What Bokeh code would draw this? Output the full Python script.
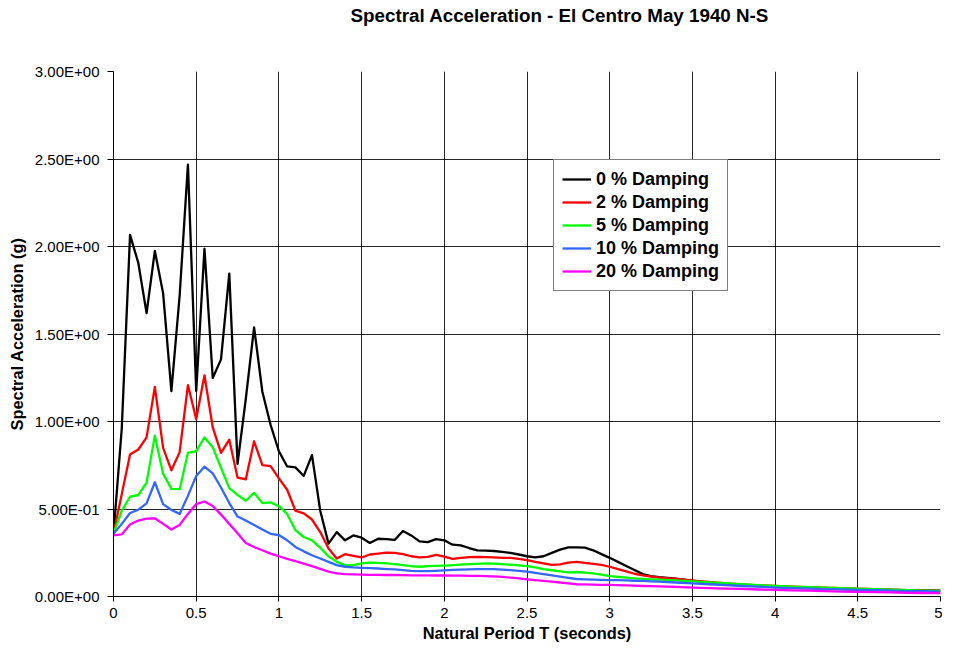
from bokeh.plotting import figure
from bokeh.models import Range1d, FixedTicker, Legend, LegendItem, ColumnDataSource, Title
from bokeh.embed import file_html
from bokeh.resources import INLINE

# ---------------- data ----------------
period = [0.00, 0.05, 0.10, 0.15, 0.20, 0.25, 0.30, 0.35, 0.40, 0.45,
          0.50, 0.55, 0.60, 0.65, 0.70, 0.75, 0.80, 0.85, 0.90, 0.95,
          1.00, 1.05, 1.10, 1.15, 1.20, 1.25, 1.30, 1.35, 1.40, 1.45,
          1.50, 1.55, 1.60, 1.65, 1.70, 1.75, 1.80, 1.85, 1.90, 1.95,
          2.00, 2.05, 2.10, 2.15, 2.20, 2.25, 2.30, 2.35, 2.40, 2.45,
          2.50, 2.55, 2.60, 2.65, 2.70, 2.75, 2.80, 2.85, 2.90, 2.95,
          3.00, 3.05, 3.10, 3.15, 3.20, 3.25, 3.30,
          3.4, 3.5, 3.6, 3.7, 3.8, 3.9, 4.0, 4.1, 4.2, 4.3, 4.4, 4.5, 4.6, 4.7, 4.8, 4.9, 5.0]

damp_0 = [0.358, 0.96, 2.066, 1.906, 1.619, 1.975, 1.732, 1.174, 1.72, 2.468,
          1.174, 1.987, 1.249, 1.355, 1.845, 0.758, 1.13, 1.538, 1.17, 0.98,
          0.83, 0.743, 0.738, 0.689, 0.808, 0.49, 0.302, 0.368, 0.321, 0.349,
          0.336, 0.306, 0.33, 0.328, 0.323, 0.374, 0.349, 0.315, 0.311, 0.328,
          0.321, 0.296, 0.292, 0.277, 0.264, 0.262, 0.26, 0.255, 0.249, 0.24,
          0.23, 0.223, 0.23, 0.249, 0.268, 0.281, 0.281, 0.279, 0.264, 0.242,
          0.221, 0.198, 0.174, 0.151, 0.128, 0.117, 0.111,
          0.102, 0.091, 0.079, 0.072, 0.064, 0.06, 0.057, 0.054, 0.051, 0.048, 0.045, 0.042, 0.04, 0.038, 0.036, 0.035, 0.034]

damp_2 = [0.358, 0.585, 0.811, 0.84, 0.909, 1.198, 0.849, 0.721, 0.825, 1.208,
          1.013, 1.264, 0.966, 0.821, 0.896, 0.679, 0.670, 0.887, 0.751, 0.745,
          0.675, 0.61, 0.49, 0.475, 0.44, 0.368, 0.274, 0.217, 0.242, 0.232,
          0.223, 0.24, 0.245, 0.251, 0.249, 0.242, 0.23, 0.223, 0.226, 0.238,
          0.228, 0.215, 0.221, 0.225, 0.226, 0.225, 0.223, 0.221, 0.221, 0.215,
          0.208, 0.198, 0.189, 0.181, 0.183, 0.194, 0.198, 0.192, 0.187, 0.181,
          0.17, 0.157, 0.143, 0.13, 0.121, 0.113, 0.108,
          0.1, 0.091, 0.083, 0.075, 0.069, 0.064, 0.06, 0.057, 0.054, 0.051, 0.048, 0.045, 0.042, 0.039, 0.036, 0.034, 0.032]

damp_5 = [0.358, 0.49, 0.57, 0.58, 0.651, 0.919, 0.702, 0.615, 0.613, 0.821,
          0.830, 0.909, 0.853, 0.736, 0.619, 0.581, 0.547, 0.592, 0.534, 0.538,
          0.516, 0.472, 0.379, 0.34, 0.321, 0.279, 0.23, 0.198, 0.179, 0.179,
          0.189, 0.194, 0.192, 0.189, 0.185, 0.179, 0.174, 0.17, 0.174, 0.175,
          0.177, 0.179, 0.182, 0.185, 0.187, 0.189, 0.188, 0.185, 0.182, 0.178,
          0.174, 0.166, 0.157, 0.15, 0.143, 0.138, 0.14, 0.136, 0.132, 0.125,
          0.117, 0.112, 0.108, 0.104, 0.101, 0.098, 0.096,
          0.092, 0.087, 0.081, 0.076, 0.07, 0.065, 0.06, 0.057, 0.054, 0.051, 0.048, 0.045, 0.042, 0.039, 0.036, 0.034, 0.032]

damp_10 = [0.358, 0.415, 0.477, 0.496, 0.532, 0.653, 0.528, 0.494, 0.472, 0.575,
           0.689, 0.742, 0.704, 0.623, 0.534, 0.457, 0.434, 0.409, 0.383, 0.358,
           0.351, 0.321, 0.283, 0.258, 0.236, 0.217, 0.198, 0.179, 0.17, 0.166,
           0.164, 0.162, 0.16, 0.157, 0.155, 0.151, 0.147, 0.145, 0.145, 0.147,
           0.149, 0.152, 0.154, 0.155, 0.156, 0.157, 0.156, 0.154, 0.151, 0.147,
           0.142, 0.135, 0.128, 0.121, 0.114, 0.107, 0.1, 0.098, 0.096, 0.095,
           0.094, 0.093, 0.092, 0.09, 0.089, 0.087, 0.085,
           0.08, 0.075, 0.07, 0.065, 0.06, 0.056, 0.051, 0.048, 0.045, 0.042, 0.04, 0.038, 0.036, 0.034, 0.031, 0.03, 0.028]

damp_20 = [0.349, 0.355, 0.411, 0.434, 0.445, 0.447, 0.415, 0.383, 0.409, 0.472,
           0.528, 0.543, 0.517, 0.468, 0.415, 0.362, 0.306, 0.283, 0.264, 0.245,
           0.23, 0.215, 0.202, 0.188, 0.174, 0.158, 0.142, 0.132, 0.128, 0.126,
           0.125, 0.124, 0.123, 0.123, 0.123, 0.122, 0.121, 0.121, 0.121, 0.12,
           0.12, 0.119, 0.119, 0.118, 0.118, 0.117, 0.115, 0.112, 0.108, 0.103,
           0.098, 0.094, 0.089, 0.085, 0.08, 0.075, 0.07, 0.069, 0.068, 0.067,
           0.066, 0.065, 0.063, 0.062, 0.06, 0.059, 0.058,
           0.055, 0.051, 0.048, 0.045, 0.043, 0.04, 0.038, 0.035, 0.033, 0.031, 0.028, 0.026, 0.025, 0.023, 0.021, 0.02, 0.019]

series_labels = ["0 % Damping", "2 % Damping", "5 % Damping", "10 % Damping", "20 % Damping"]
series_values = [damp_0, damp_2, damp_5, damp_10, damp_20]
series_colors = ["#000000", "#FF0000", "#00FF00", "#3366FF", "#FF00FF"]

x_tick_values = [0, 0.5, 1, 1.5, 2, 2.5, 3, 3.5, 4, 4.5, 5]
x_tick_labels = ["0", "0.5", "1", "1.5", "2", "2.5", "3", "3.5", "4", "4.5", "5"]
y_tick_values = [0, 0.5, 1.0, 1.5, 2.0, 2.5, 3.0]
y_tick_labels = ["0.00E+00", "5.00E-01", "1.00E+00", "1.50E+00", "2.00E+00", "2.50E+00", "3.00E+00"]

title_text = "Spectral Acceleration - El Centro May 1940 N-S"
x_label = "Natural Period T (seconds)"
y_label = "Spectral Acceleration (g)"

FONT = "Liberation Sans"

# ---------------- figure ----------------
p = figure(width=942, height=646, output_backend="svg", toolbar_location=None,
           x_range=Range1d(0, 5), y_range=Range1d(0, 3),
           min_border_left=113, min_border_right=2, min_border_top=71,
           min_border_bottom=50)
p.outline_line_color = None
p.background_fill_color = "white"
p.border_fill_color = "white"
p.title.text = ""

# spacer (closest to frame) then the visible title above it
spacer = Title(text=" ", text_font=FONT, text_font_size="10px", standoff=33,
               text_color="white")
p.add_layout(spacer, "above")
main_title = Title(text=title_text, text_font=FONT, text_font_size="18.8px",
                   text_font_style="bold", text_color="black",
                   align="left", offset=237, standoff=0)
p.add_layout(main_title, "above")

# axes
for ax in (p.xaxis[0], p.yaxis[0]):
    ax.axis_line_color = "black"
    ax.axis_line_width = 1
    ax.major_tick_line_color = "black"
    ax.major_tick_in = 0
    ax.minor_tick_line_color = None
    ax.major_label_text_font = FONT
    ax.major_label_text_font_size = "15px"
    ax.major_label_text_color = "black"
    ax.axis_label_text_font = FONT
    ax.axis_label_text_font_size = "16.4px"
    ax.axis_label_text_font_style = "bold"
    ax.axis_label_text_color = "black"

p.xaxis.ticker = FixedTicker(ticks=x_tick_values)
p.xaxis.major_label_overrides = dict(zip(x_tick_values, x_tick_labels))
p.xaxis.major_tick_out = 5
p.xaxis.major_label_standoff = 6
p.xaxis.axis_label = x_label
p.xaxis.axis_label_standoff = 3

p.yaxis.ticker = FixedTicker(ticks=y_tick_values)
p.yaxis.major_label_overrides = dict(zip(y_tick_values, y_tick_labels))
p.yaxis.major_tick_out = 6
p.yaxis.major_label_standoff = 8
p.yaxis.axis_label = y_label
p.yaxis.axis_label_standoff = 6

for g in (p.xgrid[0], p.ygrid[0]):
    g.grid_line_color = "#000000"
    g.grid_line_width = 1
    g.grid_line_alpha = 0.85

# lines
items = []
for lbl, vals, col in zip(series_labels, series_values, series_colors):
    src = ColumnDataSource(dict(t=period, sa=vals))
    r = p.line("t", "sa", source=src, line_color=col, line_width=2.3, line_join="round")
    items.append(LegendItem(label=lbl, renderers=[r]))

legend = Legend(items=items, location=(440, 305))
legend.label_text_font = FONT
legend.label_text_font_style = "bold"
legend.label_text_font_size = "18px"
legend.label_text_color = "black"
legend.glyph_width = 29
legend.glyph_height = 22
legend.label_height = 22
legend.label_standoff = 5
legend.spacing = 1
legend.padding = 8
legend.margin = 0
legend.border_line_color = "black"
legend.border_line_width = 1
legend.background_fill_color = "white"
legend.background_fill_alpha = 1
p.add_layout(legend)

open("out.html", "w").write(file_html(p, INLINE))
